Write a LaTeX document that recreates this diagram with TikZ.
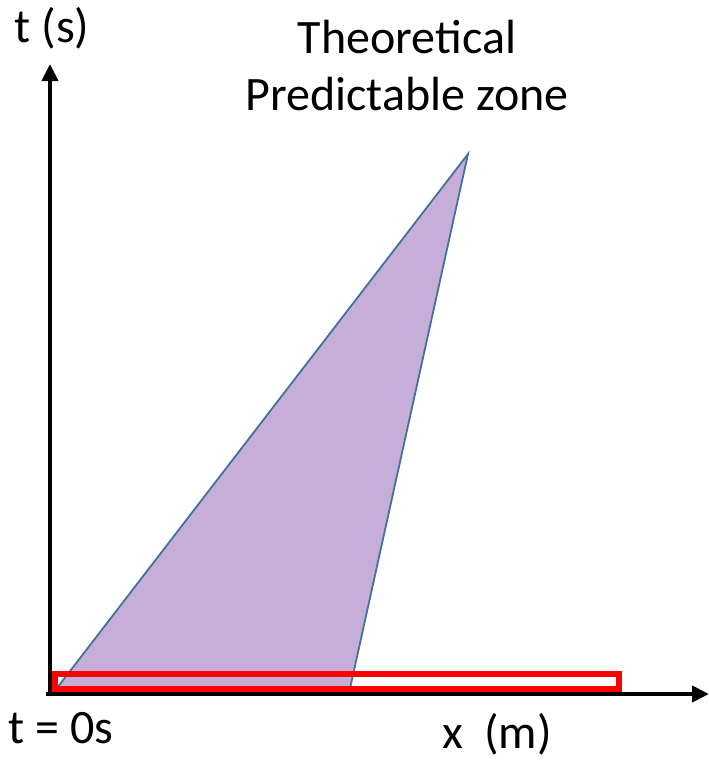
\documentclass[tikz,border=0pt]{standalone}
\usepackage{fontspec}
\setmainfont{Carlito}
\usetikzlibrary{arrows.meta}
\definecolor{zonefill}{HTML}{C6AED8}
\definecolor{zoneline}{HTML}{41719C}
\definecolor{boxred}{HTML}{FF0000}
\begin{document}
\begin{tikzpicture}[x=1pt,y=-1pt,
  axis/.style={line width=4pt,-{Triangle[length=17pt,width=16pt]}},
  zone/.style={fill=zonefill,draw=zoneline,line width=1.8pt,line join=miter},
  redbox/.style={draw=boxred,line width=6pt},
  lbl/.style={font=\fontsize{48}{58}\selectfont,anchor=base,inner sep=0pt,align=center}]
\useasboundingbox (0,0) rectangle (709,760);
\coordinate (o) at (50,694);
\coordinate (ytip) at (50,64);
\coordinate (xstart) at (46,694);
\coordinate (xtip) at (709,694);
\coordinate (za) at (57,688);
\coordinate (zb) at (349,693);
\coordinate (zc) at (468,154);
\coordinate (ra) at (55,674);
\coordinate (rb) at (619,689);
\draw[zone] (za) -- (zb) -- (zc) -- cycle;
\draw[redbox] (ra) rectangle (rb);
\draw[axis] (o) -- (ytip);
\draw[axis] (xstart) -- (xtip);
\node[lbl] (tlab) at (52,43) {t (s)};
\node[lbl] (title1) at (407,53) {Theoretical};
\node[lbl] (title2) at (407,110) {Predictable zone};
\node[lbl] (t0) at (61,743) {t = 0s};
\node[lbl] (xlab) at (497,748) {x\hspace{0.45em}(m)};
\end{tikzpicture}
\end{document}
